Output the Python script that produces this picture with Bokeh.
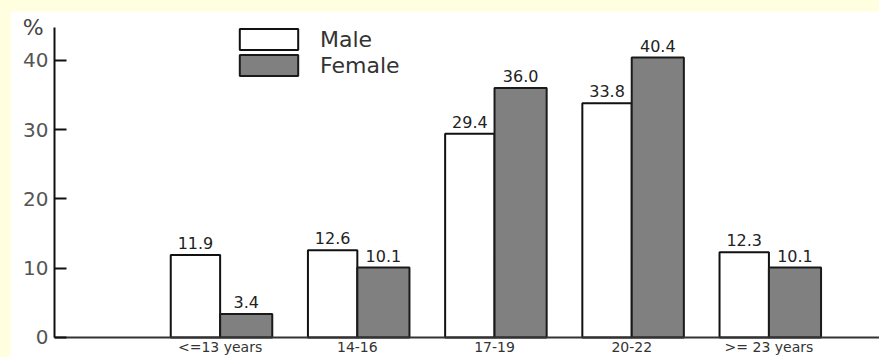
import numpy as np
from bokeh.plotting import figure
from bokeh.models import (Range1d, FixedTicker, ColumnDataSource, Legend,
                          LegendItem, Label)
from bokeh.transform import dodge
from bokeh.layouts import column
from bokeh.core.properties import value
from bokeh.embed import file_html
from bokeh.resources import INLINE

categories = ["<=13 years", "14-16", "17-19", "20-22", ">= 23 years"]
male = [11.9, 12.6, 29.4, 33.8, 12.3]
female = [3.4, 10.1, 36.0, 40.4, 10.1]
y_ticks = [0, 10, 20, 30, 40]

pos = list(range(len(categories)))
src = ColumnDataSource(dict(
    x=pos, male=male, female=female,
    ml=[f"{v:.1f}" for v in male], fl=[f"{v:.1f}" for v in female]))

FONT = "DejaVu Sans"
X0, X1 = -1.528, 4.806      # visible x extent (frame)
Y0, Y1 = -2.886, 47.04      # visible y extent (frame)
AX_X = -1.207               # where the y axis sits
AX_TOP = 44.73              # top of the y axis line

p = figure(width=869, height=346,
           x_range=Range1d(X0, X1), y_range=Range1d(Y0, Y1),
           output_backend="svg", toolbar_location=None,
           min_border=0, background_fill_color="white",
           border_fill_color="white", outline_line_color=None,
           margin=(11, 0, 0, 10))

rm = p.vbar(x=dodge("x", -0.18, range=p.x_range), width=0.36, top="male",
            bottom=0, source=src, fill_color="white", line_color="#111111",
            line_width=2)
rf = p.vbar(x=dodge("x", 0.19, range=p.x_range), width=0.38, top="female",
            bottom=0, source=src, fill_color="#808080", line_color="#1a1a1a",
            line_width=2)

p.text(x=dodge("x", -0.18, range=p.x_range), y="male", text="ml", source=src,
       y_offset=-6, text_baseline="bottom", text_align="center",
       text_font=value(FONT), text_font_size="16px", text_color="#222222")
p.text(x=dodge("x", 0.19, range=p.x_range), y="female", text="fl", source=src,
       y_offset=-6, text_baseline="bottom", text_align="center",
       text_font=value(FONT), text_font_size="16px", text_color="#222222")

legend = Legend(items=[LegendItem(label="Male", renderers=[rm]),
                       LegendItem(label="Female", renderers=[rf])],
                location=(222, 279), glyph_width=73, glyph_height=26,
                spacing=0, padding=0, margin=0, label_standoff=15,
                border_line_color=None, background_fill_alpha=0,
                label_text_font=FONT, label_text_font_size="22px",
                label_text_color="#333333")
p.add_layout(legend)

p.xgrid.visible = False
p.ygrid.visible = False

ya = p.yaxis[0]
ya.fixed_location = AX_X
ya.bounds = (0, AX_TOP)
ya.ticker = FixedTicker(ticks=y_ticks)
ya.major_tick_in = 12
ya.major_tick_out = 0
ya.minor_tick_line_color = None
ya.axis_line_width = 2
ya.axis_line_color = "#111111"
ya.major_tick_line_width = 2
ya.major_tick_line_color = "#111111"
ya.major_label_text_font = FONT
ya.major_label_text_font_size = "20px"
ya.major_label_text_color = "#555555"
ya.major_label_standoff = 6

xa = p.xaxis[0]
xa.fixed_location = 0
xa.bounds = (AX_X, X1)
xa.ticker = FixedTicker(ticks=pos)
xa.major_label_overrides = {i: c for i, c in zip(pos, categories)}
xa.major_tick_line_color = None
xa.major_tick_in = 0
xa.major_tick_out = 0
xa.minor_tick_line_color = None
xa.minor_tick_in = 0
xa.minor_tick_out = 0
xa.axis_line_width = 2
xa.axis_line_color = "#333333"
xa.major_label_text_font = FONT
xa.major_label_text_font_size = "14px"
xa.major_label_text_color = "#333333"
xa.major_label_standoff = 2

p.add_layout(Label(x=AX_X, y=AX_TOP, x_offset=-11, text="%",
                   text_align="right", text_baseline="middle",
                   text_font=FONT, text_font_size="22px",
                   text_color="#444444"))

layout = column(p, styles={"background-color": "#FFFFE0"})
open("out.html", "w").write(file_html(layout, INLINE))
